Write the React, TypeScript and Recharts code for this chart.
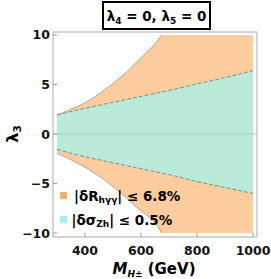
import React from "react";
import {
  ComposedChart,
  Area,
  Line,
  XAxis,
  YAxis,
  ReferenceLine,
  ReferenceArea,
} from "recharts";

// Charged Higgs mass (GeV)
const mass = [300, 350, 400, 450, 500, 550, 600, 650, 676, 700, 800, 900, 1000];
// |δR_hγγ| ≤ 6.8% allowed band (orange)
const rUpper = [1.92, 2.5, 3.15, 4.05, 5.1, 6.3, 7.7, 9.1, 10, 10, 10, 10, 10];
const rLower = [-1.95, -2.6, -3.35, -4.25, -5.3, -6.5, -7.75, -8.95, -10, -10, -10, -10, -10];
// |δσ_Zh| ≤ 0.5% allowed band (green)
const zUpper = [1.92, 2.27, 2.6, 2.9, 3.2, 3.5, 3.8, 4.1, 4.25, 4.4, 5.05, 5.7, 6.4];
const zLower = [-1.55, -1.95, -2.3, -2.6, -2.9, -3.2, -3.5, -3.8, -3.95, -4.1, -4.8, -5.4, -6.0];

const xTicks = [400, 600, 800, 1000];
const yTicks = [-10, -5, 0, 5, 10];

const data = mass.map((m, i) => ({
  m,
  r: [rLower[i], rUpper[i]],
  z: [zLower[i], zUpper[i]],
  ru: m <= 676 ? rUpper[i] : null,
  rl: m <= 676 ? rLower[i] : null,
  zu: zUpper[i],
  zl: zLower[i],
}));

const FONT = "'DejaVu Sans', sans-serif";
const fmt = (v: number) => (v < 0 ? "\u2212" + Math.abs(v) : String(v));

const XTick = (props: any) => {
  const { x, y, payload } = props;
  return (
    <g>
      <line x1={x} x2={x} y1={y} y2={y - 4} stroke="#999" />
      <text x={x} y={y + 17.5} textAnchor="middle" fontFamily={FONT} fontWeight="bold" fontSize={12.5} fill="#111">
        {payload.value}
      </text>
    </g>
  );
};

const YTick = (props: any) => {
  const { x, y, payload } = props;
  return (
    <g>
      <line x1={x} x2={x + 4} y1={y} y2={y} stroke="#999" />
      <text x={x - 3} y={y + 4.5} textAnchor="end" fontFamily={FONT} fontWeight="bold" fontSize={12.5} fill="#111">
        {fmt(payload.value)}
      </text>
    </g>
  );
};

export default function App() {
  return (
    <div style={{ position: "absolute", left: 0, top: 0, width: 271, height: 279, background: "#fff" }}>
      <ComposedChart
        width={271}
        height={279}
        data={data}
        margin={{ top: 32, right: 14, bottom: 0, left: 0 }}
      >
        <XAxis
          dataKey="m"
          type="number"
          domain={[286, 1014]}
          ticks={xTicks}
          allowDataOverflow
          height={42}
          tickSize={0}
          tickMargin={0}
          axisLine={false}
          tick={<XTick />}
        />
        <YAxis
          type="number"
          domain={[-10.4, 10.3]}
          ticks={yTicks}
          allowDataOverflow
          width={53}
          tickSize={0}
          tickMargin={0}
          axisLine={false}
          tick={<YTick />}
        />
        <Area
          dataKey="r"
          type="monotone"
          stroke="none"
          fill="#FECD9F"
          fillOpacity={1}
          isAnimationActive={false}
          dot={false}
          activeDot={false}
        />
        <Area
          dataKey="z"
          type="monotone"
          stroke="none"
          fill="#BAEBD8"
          fillOpacity={1}
          isAnimationActive={false}
          dot={false}
          activeDot={false}
        />
        <ReferenceLine y={0} stroke="#9DD3C8" strokeWidth={1} />
        <Line dataKey="ru" type="monotone" stroke="#a0968c" strokeWidth={0.8} dot={false} activeDot={false} isAnimationActive={false} connectNulls={false} />
        <Line dataKey="rl" type="monotone" stroke="#a0968c" strokeWidth={0.8} dot={false} activeDot={false} isAnimationActive={false} connectNulls={false} />
        <Line dataKey="zu" type="monotone" stroke="#7f8c88" strokeWidth={1} strokeDasharray="4 2" dot={false} activeDot={false} isAnimationActive={false} />
        <Line dataKey="zl" type="monotone" stroke="#7f8c88" strokeWidth={1} strokeDasharray="4 2" dot={false} activeDot={false} isAnimationActive={false} />
        <ReferenceArea x1={286} x2={1014} y1={-10.4} y2={10.3} fill="none" stroke="#aaa" strokeWidth={1} />
      </ComposedChart>
      <svg width={271} height={279} style={{ position: "absolute", left: 0, top: 0, pointerEvents: "none" }}>
        <rect x={103} y={2} width={107} height={27} fill="#fff" stroke="#000" strokeWidth={2} />
        <text x={156.5} y={20.5} textAnchor="middle" fontFamily={FONT} fontWeight="bold" fontSize={13.5} fill="#000">
          λ<tspan fontSize={9} dy={3}>4</tspan>
          <tspan dy={-3}> = 0, λ</tspan>
          <tspan fontSize={9} dy={3}>5</tspan>
          <tspan dy={-3}> = 0</tspan>
        </text>
        <text
          transform="translate(18,134) rotate(-90)"
          textAnchor="middle"
          fontFamily={FONT}
          fontWeight="bold"
          fontSize={16}
          fill="#000"
        >
          λ<tspan fontSize={10.5} dy={3}>3</tspan>
        </text>
        <text x={154} y={274} textAnchor="middle" fontFamily={FONT} fontWeight="bold" fontSize={15} fill="#000">
          <tspan fontStyle="italic">M</tspan>
          <tspan fontStyle="italic" fontSize={9} dy={3}>H±</tspan>
          <tspan dy={-3}> (GeV)</tspan>
        </text>
        <rect x={60} y={192} width={7} height={7} fill="#F5AF6F" />
        <text x={74} y={200.5} fontFamily={FONT} fontWeight="bold" fontSize={13.5} fill="#000">
          |δR<tspan fontSize={9} dy={2}>hγγ</tspan>
          <tspan dy={-2}>| ≤ 6.8%</tspan>
        </text>
        <rect x={60} y={216} width={7} height={7} fill="#A2F0F0" />
        <text x={71.5} y={224.5} fontFamily={FONT} fontWeight="bold" fontSize={13.5} fill="#000">
          |δσ<tspan fontSize={9} dy={2}>Zh</tspan>
          <tspan dy={-2}>| ≤ 0.5%</tspan>
        </text>
      </svg>
    </div>
  );
}
